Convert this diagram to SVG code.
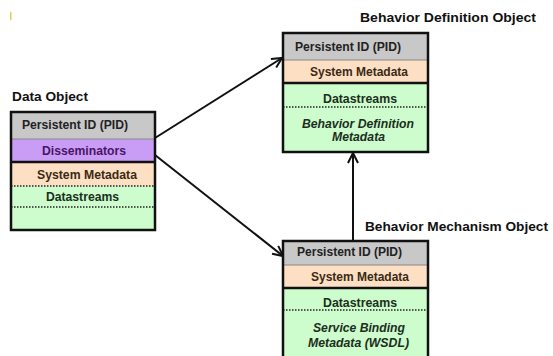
<svg xmlns="http://www.w3.org/2000/svg" width="553" height="356" viewBox="0 0 553 356">
<defs>
<style>
.t{font-family:"Liberation Sans",Arial,sans-serif;font-weight:bold;font-size:12px;fill:#222}
.ti{font-family:"Liberation Sans",Arial,sans-serif;font-weight:bold;font-size:13px;fill:#111}
.it{font-style:italic}
.gray{fill:#c8c8c8}
.pur{fill:#c99cf5}
.sal{fill:#fddfc4}
.grn{fill:#cdfccd}
.thin{stroke:#888;stroke-width:1}
.thick{stroke:#111;stroke-width:2.5}
.dot{stroke:#222;stroke-width:1.5;stroke-dasharray:1.5 1.5}
.frame{fill:none;stroke:#111;stroke-width:2.5}
.conn{stroke:#111;stroke-width:2;fill:none}
</style>
<marker id="ah" viewBox="0 0 12 12" refX="11" refY="6" markerWidth="12" markerHeight="12" markerUnits="userSpaceOnUse" orient="auto">
<path d="M1,1 L11,6 L1,11" fill="none" stroke="#111" stroke-width="2"/>
</marker>
</defs>
<rect width="553" height="356" fill="#fff"/>
<rect x="10" y="12" width="1.5" height="8" fill="#e6cf4a"/>

<g id="connectors">
<line class="conn" x1="155" y1="138" x2="282" y2="58" marker-end="url(#ah)"/>
<line class="conn" x1="155" y1="155" x2="283" y2="256" marker-end="url(#ah)"/>
<line class="conn" x1="353" y1="241" x2="353" y2="153" marker-end="url(#ah)"/>
</g>

<g id="data-object">
<text class="ti" x="12" y="101" textLength="76" lengthAdjust="spacingAndGlyphs">Data Object</text>
<rect class="gray" x="11" y="112" width="144" height="27"/>
<rect class="pur" x="11" y="139" width="144" height="23"/>
<rect class="sal" x="11" y="162" width="144" height="24"/>
<rect class="grn" x="11" y="186" width="144" height="44"/>
<line class="thin" x1="11" y1="139" x2="155" y2="139"/>
<line class="thick" x1="11" y1="162" x2="155" y2="162"/>
<line class="dot" x1="11" y1="186" x2="155" y2="186"/>
<line class="dot" x1="11" y1="207" x2="155" y2="207"/>
<rect class="frame" x="11" y="112" width="144" height="118"/>
<text class="t" x="22" y="129" textLength="106" lengthAdjust="spacingAndGlyphs">Persistent ID (PID)</text>
<text class="t" x="42" y="155" textLength="84" lengthAdjust="spacingAndGlyphs" fill="#4a1468" style="fill:#4a1468">Disseminators</text>
<text class="t" x="37" y="179" textLength="100" lengthAdjust="spacingAndGlyphs" style="fill:#3a2a14">System Metadata</text>
<text class="t" x="46" y="201" textLength="73" lengthAdjust="spacingAndGlyphs" style="fill:#1c2e1c">Datastreams</text>
</g>

<g id="behavior-definition-object">
<text class="ti" x="360" y="22" textLength="176" lengthAdjust="spacingAndGlyphs">Behavior Definition Object</text>
<rect class="gray" x="283" y="33" width="145" height="27"/>
<rect class="sal" x="283" y="60" width="145" height="23"/>
<rect class="grn" x="283" y="83" width="145" height="69"/>
<line class="thin" x1="283" y1="60" x2="428" y2="60"/>
<line class="thick" x1="283" y1="83" x2="428" y2="83"/>
<line class="dot" x1="283" y1="107" x2="428" y2="107"/>
<rect class="frame" x="283" y="33" width="145" height="119"/>
<text class="t" x="295" y="51" textLength="106" lengthAdjust="spacingAndGlyphs">Persistent ID (PID)</text>
<text class="t" x="310" y="76" textLength="98" lengthAdjust="spacingAndGlyphs" style="fill:#3a2a14">System Metadata</text>
<text class="t" x="323" y="103" textLength="74" lengthAdjust="spacingAndGlyphs" style="fill:#1c2e1c">Datastreams</text>
<text class="t it" x="302" y="128" textLength="112" lengthAdjust="spacingAndGlyphs" style="fill:#1c2e1c">Behavior Definition</text>
<text class="t it" x="332" y="141" textLength="53" lengthAdjust="spacingAndGlyphs" style="fill:#1c2e1c">Metadata</text>
</g>

<g id="behavior-mechanism-object">
<text class="ti" x="365" y="231" textLength="183" lengthAdjust="spacingAndGlyphs">Behavior Mechanism Object</text>
<rect class="gray" x="283" y="241" width="145" height="24"/>
<rect class="sal" x="283" y="265" width="145" height="23"/>
<rect class="grn" x="283" y="288" width="145" height="72"/>
<line class="thin" x1="283" y1="265" x2="428" y2="265"/>
<line class="thick" x1="283" y1="288" x2="428" y2="288"/>
<line class="dot" x1="283" y1="310" x2="428" y2="310"/>
<rect class="frame" x="283" y="241" width="145" height="125"/>
<text class="t" x="297" y="256" textLength="105" lengthAdjust="spacingAndGlyphs">Persistent ID (PID)</text>
<text class="t" x="311" y="281" textLength="98" lengthAdjust="spacingAndGlyphs" style="fill:#3a2a14">System Metadata</text>
<text class="t" x="323" y="307" textLength="74" lengthAdjust="spacingAndGlyphs" style="fill:#1c2e1c">Datastreams</text>
<text class="t it" x="313" y="332" textLength="92" lengthAdjust="spacingAndGlyphs" style="fill:#1c2e1c">Service Binding</text>
<text class="t it" x="308" y="347" textLength="101" lengthAdjust="spacingAndGlyphs" style="fill:#1c2e1c">Metadata (WSDL)</text>
</g>
</svg>
